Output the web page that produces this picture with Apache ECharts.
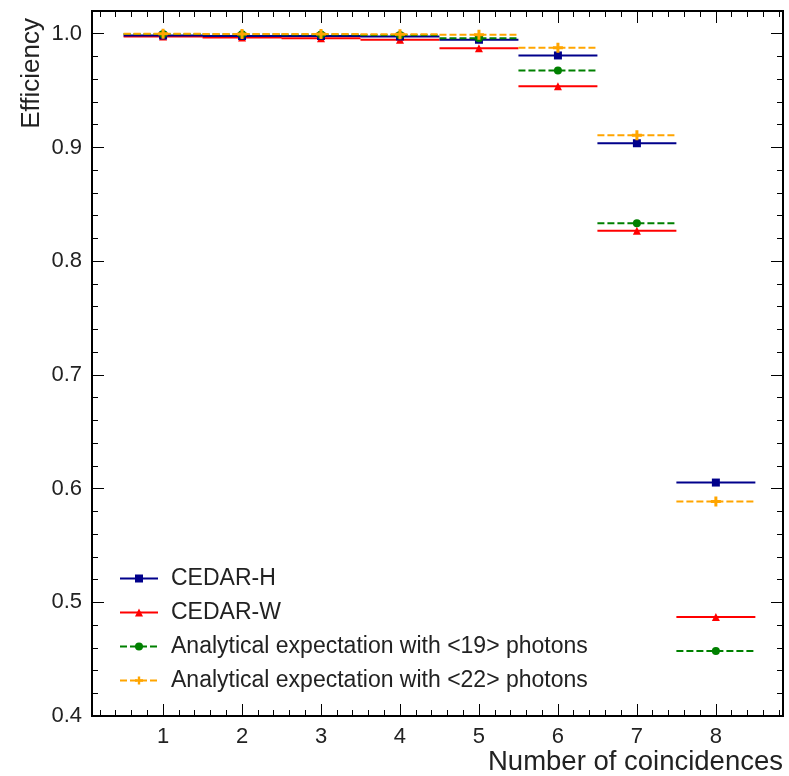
<!DOCTYPE html>
<html>
<head>
<meta charset="utf-8">
<script src="https://cdn.jsdelivr.net/npm/echarts@6/dist/echarts.min.js"></script>
<style>
html,body{margin:0;padding:0;background:#fff;}
#chart{width:789px;height:776px;}
</style>
</head>
<body>
<div id="chart"></div>
<script>
// ---- data ----
const categories = [1, 2, 3, 4, 5, 6, 7, 8];
const cedarH = [0.9985, 0.9980, 0.9980, 0.9976, 0.9947, 0.9809, 0.9037, 0.6053];
const cedarW = [0.9975, 0.9968, 0.9960, 0.9947, 0.9873, 0.9539, 0.8268, 0.4870];
const expect19 = [0.9997, 0.9995, 0.9993, 0.9988, 0.9961, 0.9677, 0.8333, 0.4571];
const expect22 = [0.9999, 0.9998, 0.9997, 0.9995, 0.9991, 0.9877, 0.9107, 0.5886];
const xTickLabels = [1, 2, 3, 4, 5, 6, 7, 8];
const yTickLabels = [0.4, 0.5, 0.6, 0.7, 0.8, 0.9, 1.0];
const seriesNames = ['CEDAR-H', 'CEDAR-W', 'Analytical expectation with <19> photons', 'Analytical expectation with <22> photons'];

// ---- build ----
const X_MIN = 0.1, X_MAX = 8.85, Y_MIN = 0.4, Y_MAX = 1.02;
const xMinor = []; for (let i = 1; i <= 44; i++) xMinor.push(+(i * 0.2).toFixed(2));
const yMinor = []; for (let i = 20; i <= 51; i++) yMinor.push(+(i * 0.02).toFixed(2));

function steps(vals) {
  const d = [];
  categories.forEach((c, i) => {
    d.push({ value: [c - 0.5, vals[i]], symbol: 'none' });
    d.push({ value: [c, vals[i]] });
    d.push({ value: [c + 0.5, vals[i]], symbol: 'none' });
    d.push({ value: [c + 0.5, '-'], symbol: 'none' });
  });
  return d;
}

const FONT = 'Liberation Sans, Arial, Helvetica, sans-serif';
const crossPath = 'path://M3.5,0 L6.5,0 L6.5,3.5 L10,3.5 L10,6.5 L6.5,6.5 L6.5,10 L3.5,10 L3.5,6.5 L0,6.5 L0,3.5 L3.5,3.5 Z';

function xAx(pos, major, labels) {
  return {
    type: 'value', position: pos, min: X_MIN, max: X_MAX,
    axisLine: { show: true, onZero: false, lineStyle: { color: '#000', width: 2 } },
    axisTick: { show: true, inside: true, length: major ? 12 : 6, customValues: major ? xTickLabels : xMinor, lineStyle: { color: '#000', width: 1 } },
    axisLabel: { show: labels, customValues: xTickLabels, fontFamily: FONT, fontSize: 22, color: '#222', margin: 10 },
    splitLine: { show: false }
  };
}
function yAx(pos, major, labels) {
  return {
    type: 'value', position: pos, min: Y_MIN, max: Y_MAX,
    axisLine: { show: true, onZero: false, lineStyle: { color: '#000', width: 2 } },
    axisTick: { show: true, inside: true, length: major ? 12 : 6, customValues: major ? yTickLabels : yMinor, lineStyle: { color: '#000', width: 1 } },
    axisLabel: { show: labels, customValues: yTickLabels, fontFamily: FONT, fontSize: 22, color: '#222', margin: 10,
      formatter: v => v.toFixed(1) },
    splitLine: { show: false }
  };
}

const styles = [
  { color: '#00008b', type: 'solid', symbol: 'rect', size: 8 },
  { color: '#ff0000', type: 'solid', symbol: 'triangle', size: 8 },
  { color: '#008000', type: [7, 3], symbol: 'circle', size: 8 },
  { color: '#ffa500', type: [7, 3], symbol: crossPath, size: 10 }
];
const datasets = [cedarH, cedarW, expect19, expect22];

const series = datasets.map((vals, k) => ({
  name: seriesNames[k],
  type: 'line',
  xAxisIndex: 0, yAxisIndex: 0,
  data: steps(vals),
  symbol: styles[k].symbol,
  symbolSize: styles[k].size,
  showSymbol: true, showAllSymbol: true,
  connectNulls: false,
  animation: false,
  z: [3, 2, 4, 5][k],
  lineStyle: { color: styles[k].color, width: 2, type: styles[k].type },
  itemStyle: { color: styles[k].color, borderWidth: 0 },
  emphasis: { disabled: true }
}));

const chart = echarts.init(document.getElementById('chart'), null, { renderer: 'canvas' });
chart.setOption({
  animation: false,
  backgroundColor: '#fff',
  grid: { left: 92, right: 6, top: 11, bottom: 60, containLabel: false },
  xAxis: [xAx('bottom', true, true), xAx('bottom', false, false), xAx('top', true, false), xAx('top', false, false)],
  yAxis: [yAx('left', true, true), yAx('left', false, false), yAx('right', true, false), yAx('right', false, false)],
  legend: {
    orient: 'vertical', left: 114, top: 562,
    itemWidth: 38, itemHeight: 10, itemGap: 11,
    textStyle: { fontFamily: FONT, fontSize: 23, color: '#222', lineHeight: 23, padding: [0, 0, 0, 8] },
    data: seriesNames,
    selectedMode: false
  },
  graphic: [
    { type: 'text', x: 783, y: 762, style: { text: 'Number of coincidences', fontFamily: FONT, fontSize: 27.5, fill: '#222', align: 'right', verticalAlign: 'middle' } },
    { type: 'text', x: 32, y: 18, rotation: Math.PI / 2, style: { text: 'Efficiency', fontFamily: FONT, fontSize: 26, fill: '#222', align: 'right', verticalAlign: 'middle' } }
  ],
  series: series
});
</script>
</body>
</html>
